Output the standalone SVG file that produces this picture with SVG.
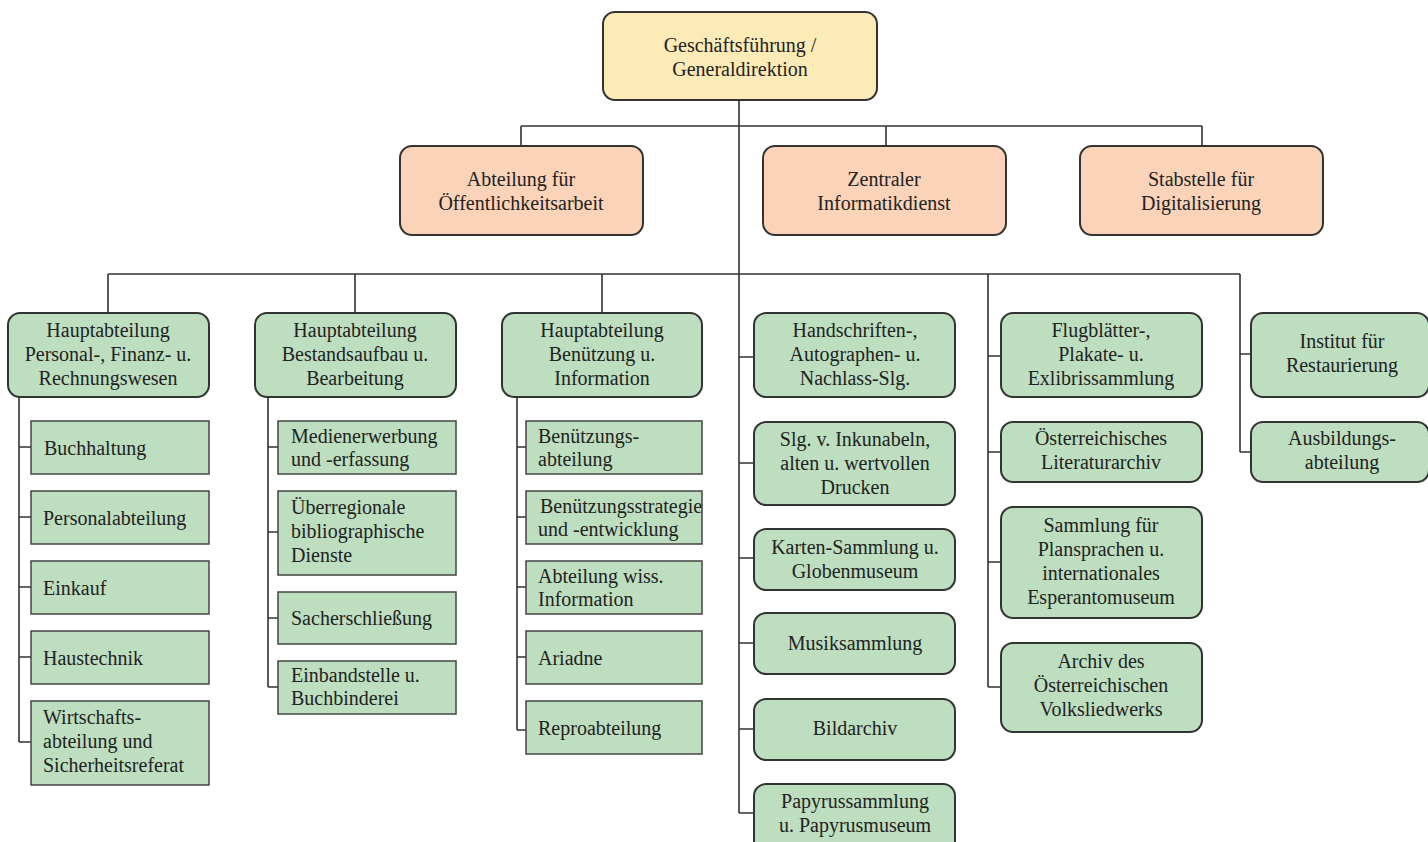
<svg xmlns="http://www.w3.org/2000/svg" width="1428" height="842" viewBox="0 0 1428 842">
<style>
.t{font-family:"Liberation Serif","Times New Roman",serif;font-size:20px;fill:#222}
.c{text-anchor:middle}
.y{fill:#FDEBB7;stroke:#333;stroke-width:2}
.p{fill:#FAD3B9;stroke:#333;stroke-width:2}
.g{fill:#BEDEC0;stroke:#333;stroke-width:2}
.s{fill:#BEDEC0;stroke:#444;stroke-width:1.5}
.ln{fill:none;stroke:#333;stroke-width:1.6}
</style>
<rect width="1428" height="842" fill="#fff"/>
<g id="connectors" class="ln">
<path d="M739 100V813M521 126H1202M521 126V146M886 126V146M1202 126V146"/>
<path d="M108 274H1240M108 274V313M355 274V313M602 274V313M988 274V687M1240 274V452"/>
<path d="M19 397V742M19 447H31M19 517H31M19 587H31M19 657H31M19 742H31"/>
<path d="M268 397V687M268 447H278M268 532H278M268 618H278M268 687H278"/>
<path d="M517 397V730M517 447H526M517 517H526M517 587H526M517 657H526M517 730H526"/>
<path d="M739 357H754M739 463H754M739 558H754M739 643H754M739 729H754M739 813H754"/>
<path d="M988 356H1001M988 452H1001M988 562H1001M988 687H1001"/>
<path d="M1240 354H1251M1240 452H1251"/>
</g>
<g id="n_top"><rect class="y" x="603" y="12" width="274" height="88" rx="12"/><text class="t c" x="740" y="52">Geschäftsführung /<tspan x="740" dy="24">Generaldirektion</tspan></text></g>
<g id="n_oeff"><rect class="p" x="400" y="146" width="243" height="89" rx="12"/><text class="t c" x="521" y="186">Abteilung für<tspan x="521" dy="24">Öffentlichkeitsarbeit</tspan></text></g>
<g id="n_zid"><rect class="p" x="763" y="146" width="243" height="89" rx="12"/><text class="t c" x="884" y="186">Zentraler<tspan x="884" dy="24">Informatikdienst</tspan></text></g>
<g id="n_digi"><rect class="p" x="1080" y="146" width="243" height="89" rx="12"/><text class="t c" x="1201" y="186">Stabstelle für<tspan x="1201" dy="24">Digitalisierung</tspan></text></g>

<g id="n_ha1"><rect class="g" x="8" y="313" width="201" height="84" rx="12"/><text class="t c" x="108" y="337">Hauptabteilung<tspan x="108" dy="24">Personal-, Finanz- u.</tspan><tspan x="108" dy="24">Rechnungswesen</tspan></text></g>
<g id="n_buch"><rect class="s" x="31" y="421" width="178" height="53"/><text class="t" x="44" y="455">Buchhaltung</text></g>
<g id="n_pers"><rect class="s" x="31" y="491" width="178" height="53"/><text class="t" x="43" y="525">Personalabteilung</text></g>
<g id="n_eink"><rect class="s" x="31" y="561" width="178" height="53"/><text class="t" x="43" y="595">Einkauf</text></g>
<g id="n_haus"><rect class="s" x="31" y="631" width="178" height="53"/><text class="t" x="43" y="665">Haustechnik</text></g>
<g id="n_wirt"><rect class="s" x="31" y="701" width="178" height="84"/><text class="t" x="43" y="724">Wirtschafts-<tspan x="43" dy="24">abteilung und</tspan><tspan x="43" dy="24">Sicherheitsreferat</tspan></text></g>

<g id="n_ha2"><rect class="g" x="255" y="313" width="201" height="84" rx="12"/><text class="t c" x="355" y="337">Hauptabteilung<tspan x="355" dy="24">Bestandsaufbau u.</tspan><tspan x="355" dy="24">Bearbeitung</tspan></text></g>
<g id="n_med"><rect class="s" x="278" y="421" width="178" height="53"/><text class="t" x="291" y="443">Medienerwerbung<tspan x="291" dy="23">und -erfassung</tspan></text></g>
<g id="n_ueb"><rect class="s" x="278" y="491" width="178" height="84"/><text class="t" x="291" y="514">Überregionale<tspan x="291" dy="24">bibliographische</tspan><tspan x="291" dy="24">Dienste</tspan></text></g>
<g id="n_sach"><rect class="s" x="278" y="592" width="178" height="52"/><text class="t" x="291" y="625">Sacherschließung</text></g>
<g id="n_einb"><rect class="s" x="278" y="661" width="178" height="53"/><text class="t" x="291" y="682">Einbandstelle u.<tspan x="291" dy="23">Buchbinderei</tspan></text></g>

<g id="n_ha3"><rect class="g" x="502" y="313" width="200" height="84" rx="12"/><text class="t c" x="602" y="337">Hauptabteilung<tspan x="602" dy="24">Benützung u.</tspan><tspan x="602" dy="24">Information</tspan></text></g>
<g id="n_ben"><rect class="s" x="526" y="421" width="176" height="53"/><text class="t" x="538" y="443">Benützungs-<tspan x="538" dy="23">abteilung</tspan></text></g>
<g id="n_bst"><rect class="s" x="526" y="491" width="176" height="53"/><text class="t" x="540" y="513">Benützungsstrategie<tspan x="538" dy="23">und -entwicklung</tspan></text></g>
<g id="n_wiss"><rect class="s" x="526" y="561" width="176" height="53"/><text class="t" x="538" y="583">Abteilung wiss.<tspan x="538" dy="23">Information</tspan></text></g>
<g id="n_ari"><rect class="s" x="526" y="631" width="176" height="53"/><text class="t" x="538" y="665">Ariadne</text></g>
<g id="n_rep"><rect class="s" x="526" y="701" width="176" height="53"/><text class="t" x="538" y="735">Reproabteilung</text></g>

<g id="n_hand"><rect class="g" x="754" y="313" width="201" height="84" rx="12"/><text class="t c" x="855" y="337">Handschriften-,<tspan x="855" dy="24">Autographen- u.</tspan><tspan x="855" dy="24">Nachlass-Slg.</tspan></text></g>
<g id="n_ink"><rect class="g" x="754" y="422" width="201" height="83" rx="12"/><text class="t c" x="855" y="446">Slg. v. Inkunabeln,<tspan x="855" dy="24">alten u. wertvollen</tspan><tspan x="855" dy="24">Drucken</tspan></text></g>
<g id="n_kart"><rect class="g" x="754" y="529" width="201" height="61" rx="12"/><text class="t c" x="855" y="554">Karten-Sammlung u.<tspan x="855" dy="24">Globenmuseum</tspan></text></g>
<g id="n_mus"><rect class="g" x="754" y="613" width="201" height="61" rx="12"/><text class="t c" x="855" y="650">Musiksammlung</text></g>
<g id="n_bild"><rect class="g" x="754" y="699" width="201" height="61" rx="12"/><text class="t c" x="855" y="735">Bildarchiv</text></g>
<g id="n_pap"><rect class="g" x="754" y="784" width="201" height="70" rx="12"/><text class="t c" x="855" y="808">Papyrussammlung<tspan x="855" dy="24">u. Papyrusmuseum</tspan></text></g>

<g id="n_flug"><rect class="g" x="1001" y="313" width="201" height="84" rx="12"/><text class="t c" x="1101" y="337">Flugblätter-,<tspan x="1101" dy="24">Plakate- u.</tspan><tspan x="1101" dy="24">Exlibrissammlung</tspan></text></g>
<g id="n_lit"><rect class="g" x="1001" y="422" width="201" height="60" rx="12"/><text class="t c" x="1101" y="445">Österreichisches<tspan x="1101" dy="24">Literaturarchiv</tspan></text></g>
<g id="n_plan"><rect class="g" x="1001" y="507" width="201" height="111" rx="12"/><text class="t c" x="1101" y="532">Sammlung für<tspan x="1101" dy="24">Plansprachen u.</tspan><tspan x="1101" dy="24">internationales</tspan><tspan x="1101" dy="24">Esperantomuseum</tspan></text></g>
<g id="n_volk"><rect class="g" x="1001" y="643" width="201" height="89" rx="12"/><text class="t c" x="1101" y="668">Archiv des<tspan x="1101" dy="24">Österreichischen</tspan><tspan x="1101" dy="24">Volksliedwerks</tspan></text></g>

<g id="n_rest"><rect class="g" x="1251" y="313" width="178" height="84" rx="12"/><text class="t c" x="1342" y="348">Institut für<tspan x="1342" dy="24">Restaurierung</tspan></text></g>
<g id="n_ausb"><rect class="g" x="1251" y="422" width="178" height="60" rx="12"/><text class="t c" x="1342" y="445">Ausbildungs-<tspan x="1342" dy="24">abteilung</tspan></text></g>
</svg>
